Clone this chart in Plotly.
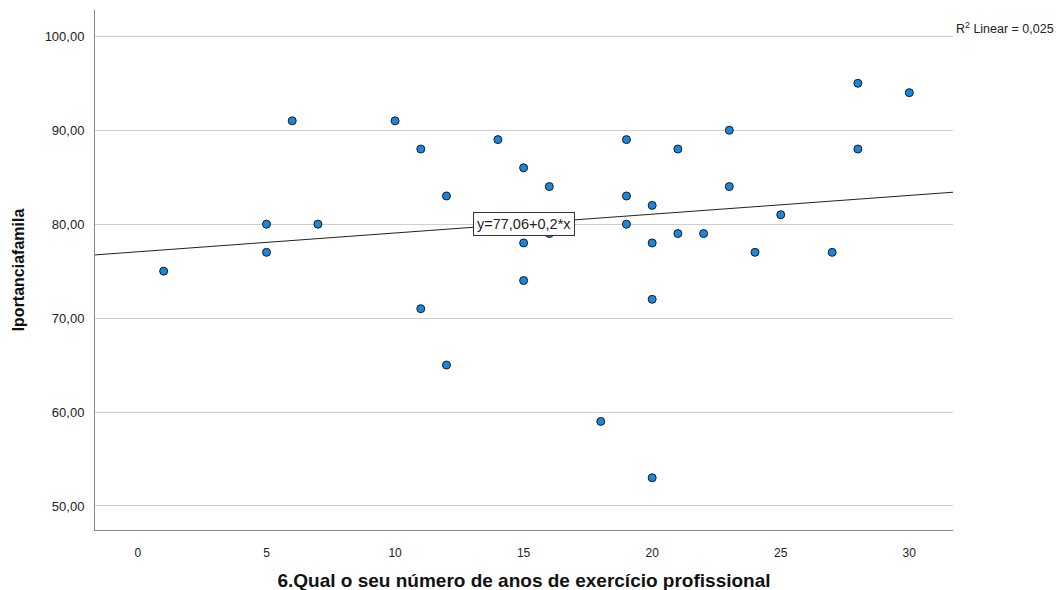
import plotly.graph_objects as go

years = [1, 5, 5, 6, 7, 10, 11, 11, 12, 12, 14, 15, 15, 15, 16, 16, 18, 19, 19, 19,
         20, 20, 20, 20, 21, 21, 22, 23, 23, 24, 25, 27, 28, 28, 30]
importancia = [75, 80, 77, 91, 80, 91, 88, 71, 83, 65, 89, 86, 78, 74, 84, 79, 59, 89, 83, 80,
               82, 78, 72, 53, 88, 79, 79, 90, 84, 77, 81, 77, 95, 88, 94]

intercept = 77.06
slope = 0.2
x_range = [-1.67, 31.7]
x_ticks = [0, 5, 10, 15, 20, 25, 30]
y_ticks = [50, 60, 70, 80, 90, 100]

fig = go.Figure()
fig.add_trace(go.Scatter(
    x=x_range, y=[intercept + slope * v for v in x_range], mode="lines",
    line=dict(color="#222222", width=1), hoverinfo="skip", showlegend=False))
fig.add_trace(go.Scatter(
    x=years, y=importancia, mode="markers",
    marker=dict(size=8, color="#1787E0", line=dict(color="#1a1a1a", width=1)),
    showlegend=False))

fig.add_annotation(x=15, y=intercept + slope * 15, text="y=77,06+0,2*x", showarrow=False,
                   font=dict(family="Liberation Sans, Arial", size=14.5, color="#222"),
                   bgcolor="white", bordercolor="#333", borderwidth=1, borderpad=3)
fig.add_annotation(xref="paper", yref="paper", x=1.0, y=0.965, xanchor="left", yanchor="middle",
                   text="R<sup>2</sup> Linear = 0,025", showarrow=False, xshift=1,
                   font=dict(family="Liberation Sans, Arial", size=12.5, color="#222"))

fig.update_layout(
    template="none",
    width=1062, height=590, paper_bgcolor="white", plot_bgcolor="white",
    margin=dict(l=87, r=117, t=2, b=68),
    separators=",.",
    font=dict(family="Liberation Sans, Arial", size=12, color="#222"),
    xaxis=dict(range=x_range, tickvals=x_ticks, showgrid=False, zeroline=False,
               showline=True, linecolor="#888", linewidth=1, ticks="", ticklabelstandoff=12,
               tickfont=dict(color="#222", size=12),
               title=dict(text="<b>6.Qual o seu número de anos de exercício profissional</b>",
                          font=dict(size=19, color="#111"), standoff=14)),
    yaxis=dict(range=[47.44, 102.8], tickvals=y_ticks, tickformat=".2f", showgrid=True,
               gridcolor="#cfcfcf", gridwidth=1, zeroline=False,
               showline=True, linecolor="#888", linewidth=1, ticks="", ticklabelstandoff=7,
               tickfont=dict(color="#222", size=13),
               title=dict(text="<b>Iportanciafamila</b>", font=dict(size=16, color="#111"),
                          standoff=16)),
)

fig.write_html("out.html")
